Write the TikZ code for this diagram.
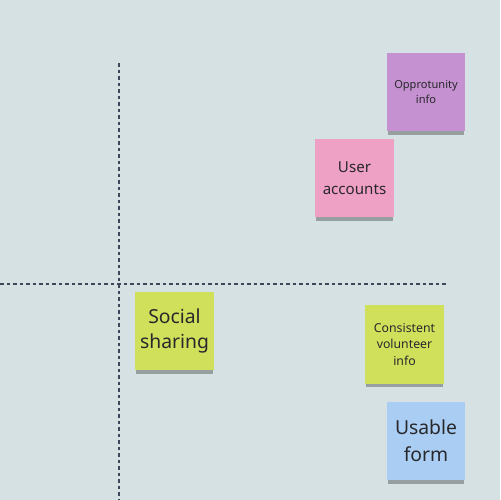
\documentclass[tikz,border=0pt]{standalone}
\usepackage{fontspec}
\setmainfont{Noto Sans}
\usepackage{tikz}
\usetikzlibrary{shadows}

\definecolor{boardbg}{RGB}{213,225,227}
\definecolor{notepurple}{RGB}{197,145,209}
\definecolor{notepink}{RGB}{239,160,197}
\definecolor{notelime}{RGB}{208,224,90}
\definecolor{noteblue}{RGB}{170,206,243}
\definecolor{notetext}{RGB}{40,40,44}
\definecolor{gridline}{RGB}{60,72,90}

\begin{document}
\begin{tikzpicture}[x=0.02cm, y=-0.02cm,
    note/.style = {minimum size=1.58cm, inner sep=1pt, align=center,
        text=notetext, drop shadow={shadow xshift=0pt, shadow yshift=-2.6pt,
        shadow scale=0.97, opacity=0.35, fill=black!85}},
    axis/.style = {draw=gridline, line width=0.6pt, dash pattern=on 2pt off 1.7pt}]
        \fill[boardbg] (0,0) rectangle (500,500);
        \useasboundingbox (0,0) rectangle (500,500);

        % the two dividing lines
        \coordinate (vtop) at (119,63);
        \coordinate (vbot) at (119,500);
        \coordinate (hleft) at (0,284);
        \coordinate (hright) at (447,284);
        \draw[axis] (vtop) -- (vbot);
        \draw[axis] (hleft) -- (hright);

        % sticky notes
        \node[note, fill=notepurple, font=\fontsize{6.3}{8.6}\selectfont] (opp) at (426,92) {Opprotunity\\info};
        \node[note, fill=notepink, font=\fontsize{8.6}{12.2}\selectfont] (user) at (354.5,178) {User\\accounts};
        \node[note, fill=notelime, font=\fontsize{11}{14.2}\selectfont] (social) at (174.5,331) {Social\\sharing};
        \node[note, fill=notelime, font=\fontsize{7}{9.6}\selectfont] (consist) at (404.5,344.5) {Consistent\\volunteer\\info};
        \node[note, fill=noteblue, font=\fontsize{11}{15.6}\selectfont] (usable) at (426,441) {Usable\\form};
      \end{tikzpicture}
\end{document}
